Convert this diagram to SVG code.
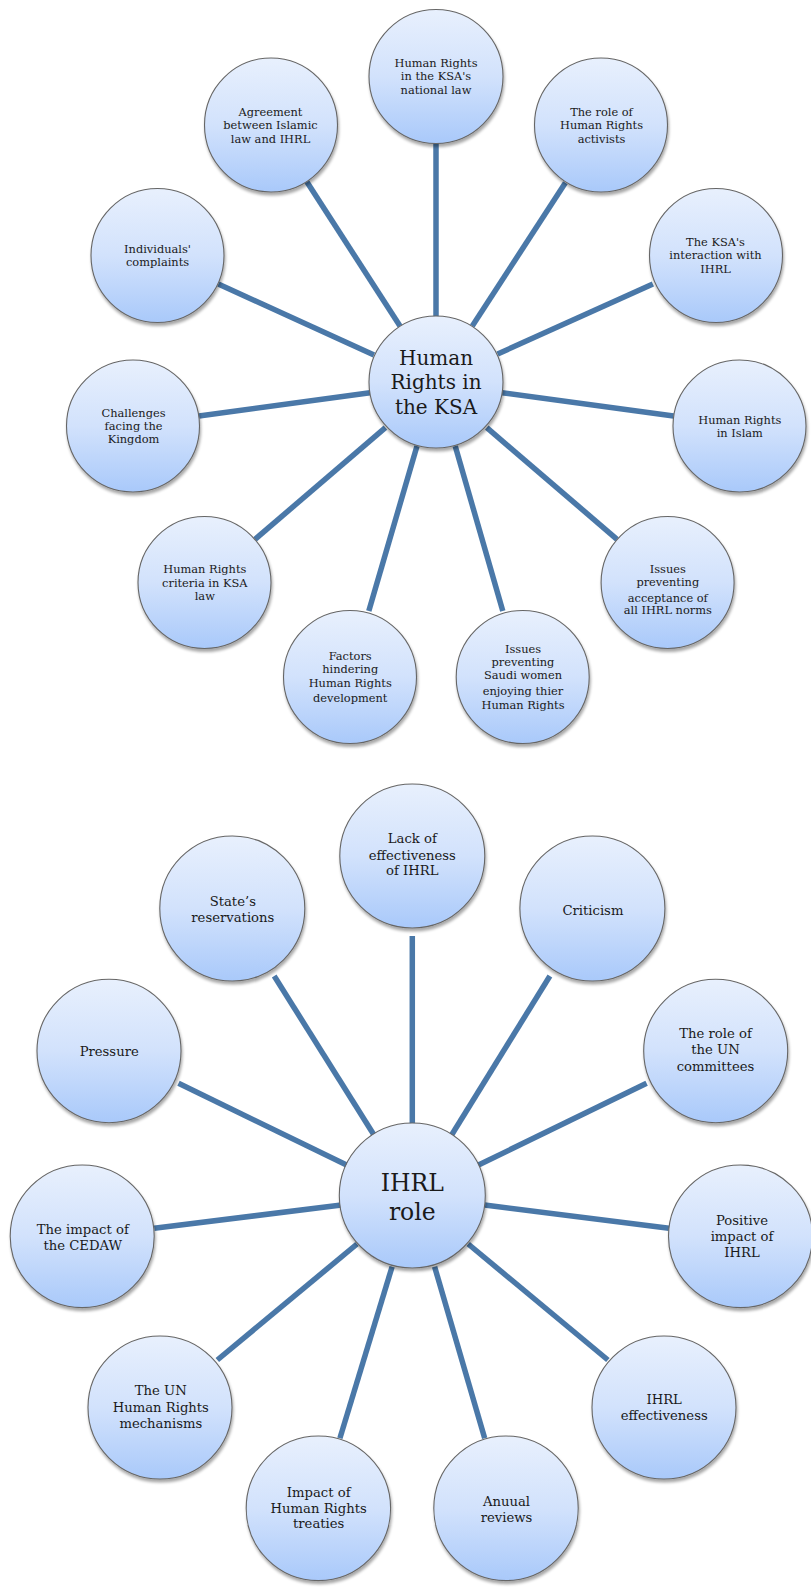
<svg xmlns="http://www.w3.org/2000/svg" width="811" height="1588" viewBox="0 0 811 1588">
  <style>
    .bg { fill: #ffffff; }
    .link { stroke: #4a78a8; stroke-width: 5.5; stroke-linecap: butt; fill: none; }
    .bubble { fill: url(#bubbleFill); stroke: #666666; stroke-width: 1.1; filter: url(#softShadow); }
    .t { font-family: "DejaVu Serif", "Liberation Serif", serif; fill: #1a1a1a; text-anchor: middle; }
    .s1 { font-size: 11.4px; }
    .s2 { font-size: 13.2px; }
    .hub1 { font-size: 20px; }
    .hub2 { font-size: 23.5px; }
  </style>
  <defs>
    <linearGradient id="bubbleFill" x1="0" y1="0" x2="0" y2="1">
      <stop offset="0" stop-color="#e8f0fd"/>
      <stop offset="0.5" stop-color="#d2e2fc"/>
      <stop offset="1" stop-color="#a9c9fa"/>
    </linearGradient>
    <filter id="softShadow" x="-20%" y="-20%" width="140%" height="145%">
      <feGaussianBlur in="SourceAlpha" stdDeviation="1.8"/>
      <feOffset dx="0.5" dy="2.5" result="blurred"/>
      <feComponentTransfer><feFuncA type="linear" slope="0.35"/></feComponentTransfer>
      <feMerge><feMergeNode/><feMergeNode in="SourceGraphic"/></feMerge>
    </filter>
  </defs>
  <rect class="bg" x="0" y="0" width="811" height="1588"/>

  <!-- spokes of the upper wheel -->
  <g id="connectors-ksa">
    <line class="link" x1="436" y1="143" x2="436" y2="318"/>
    <line class="link" x1="306.8" y1="181.7" x2="400" y2="326"/>
    <line class="link" x1="565.4" y1="182.7" x2="472.3" y2="326"/>
    <line class="link" x1="218.3" y1="284" x2="374" y2="355"/>
    <line class="link" x1="652.9" y1="284" x2="497.6" y2="354"/>
    <line class="link" x1="199" y1="416" x2="370" y2="392.7"/>
    <line class="link" x1="502" y1="392.7" x2="673.6" y2="416"/>
    <line class="link" x1="255" y1="539.3" x2="385.4" y2="427.7"/>
    <line class="link" x1="617" y1="539.3" x2="486.8" y2="427.7"/>
    <line class="link" x1="368.8" y1="611" x2="417" y2="446"/>
    <line class="link" x1="502.8" y1="611" x2="455.2" y2="446"/>
  </g>

  <!-- spokes of the lower wheel -->
  <g id="connectors-ihrl">
    <line class="link" x1="412.3" y1="936" x2="412.3" y2="1125"/>
    <line class="link" x1="274.2" y1="976" x2="374" y2="1135"/>
    <line class="link" x1="549.9" y1="976" x2="451.6" y2="1135"/>
    <line class="link" x1="178.5" y1="1083.3" x2="346.6" y2="1165"/>
    <line class="link" x1="646.6" y1="1083.3" x2="478.5" y2="1165"/>
    <line class="link" x1="154.2" y1="1228.3" x2="341.4" y2="1205"/>
    <line class="link" x1="484.7" y1="1205" x2="669" y2="1228.3"/>
    <line class="link" x1="217.3" y1="1360" x2="357" y2="1244"/>
    <line class="link" x1="607.9" y1="1360" x2="468.2" y2="1244"/>
    <line class="link" x1="339.9" y1="1438.3" x2="392.1" y2="1266.7"/>
    <line class="link" x1="484.7" y1="1438.3" x2="434.6" y2="1266.7"/>
  </g>

  <!-- upper wheel -->
  <g id="ksa-hub">
    <ellipse class="bubble" cx="436" cy="382" rx="67" ry="66"/>
    <text class="t hub1"><tspan x="436" y="365">Human</tspan><tspan x="436" y="389">Rights in</tspan><tspan x="436" y="414">the KSA</tspan></text>
  </g>
  <g id="ksa-national-law">
    <ellipse class="bubble" cx="436" cy="76.5" rx="67" ry="67"/>
    <text class="t s1"><tspan x="436" y="66.5">Human Rights</tspan><tspan x="436" y="80">in the KSA's</tspan><tspan x="436" y="94">national law</tspan></text>
  </g>
  <g id="ksa-agreement">
    <ellipse class="bubble" cx="271" cy="125" rx="66.5" ry="67"/>
    <text class="t s1"><tspan x="270.5" y="115.5">Agreement</tspan><tspan x="270.5" y="129">between Islamic</tspan><tspan x="270.5" y="142.5">law and IHRL</tspan></text>
  </g>
  <g id="ksa-activists">
    <ellipse class="bubble" cx="601" cy="125" rx="66.5" ry="67"/>
    <text class="t s1"><tspan x="601.5" y="115.5">The role of</tspan><tspan x="601.5" y="129">Human Rights</tspan><tspan x="601.5" y="142.5">activists</tspan></text>
  </g>
  <g id="ksa-complaints">
    <ellipse class="bubble" cx="157.5" cy="255.5" rx="66.5" ry="67"/>
    <text class="t s1"><tspan x="157.5" y="252.5">Individuals'</tspan><tspan x="157.5" y="266">complaints</tspan></text>
  </g>
  <g id="ksa-interaction">
    <ellipse class="bubble" cx="716" cy="255.5" rx="66.5" ry="67"/>
    <text class="t s1"><tspan x="715.5" y="245.5">The KSA's</tspan><tspan x="715.5" y="259">interaction with</tspan><tspan x="715.5" y="272.5">IHRL</tspan></text>
  </g>
  <g id="ksa-challenges">
    <ellipse class="bubble" cx="133" cy="426" rx="66.5" ry="66"/>
    <text class="t s1"><tspan x="133.5" y="416.5">Challenges</tspan><tspan x="133.5" y="429.5">facing the</tspan><tspan x="133.5" y="442.5">Kingdom</tspan></text>
  </g>
  <g id="ksa-islam">
    <ellipse class="bubble" cx="739.5" cy="426" rx="66.5" ry="66"/>
    <text class="t s1"><tspan x="739.8" y="423.5">Human Rights</tspan><tspan x="739.8" y="436.5">in Islam</tspan></text>
  </g>
  <g id="ksa-criteria">
    <ellipse class="bubble" cx="204.5" cy="582.5" rx="66.5" ry="66"/>
    <text class="t s1"><tspan x="204.8" y="573">Human Rights</tspan><tspan x="204.8" y="586.5">criteria in KSA</tspan><tspan x="204.8" y="599.5">law</tspan></text>
  </g>
  <g id="ksa-acceptance">
    <ellipse class="bubble" cx="667.6" cy="582.5" rx="66.5" ry="66"/>
    <text class="t s1"><tspan x="667.8" y="573">Issues</tspan><tspan x="667.8" y="585.5">preventing</tspan><tspan x="667.8" y="601.5">acceptance of</tspan><tspan x="667.8" y="614">all IHRL norms</tspan></text>
  </g>
  <g id="ksa-factors">
    <ellipse class="bubble" cx="350" cy="677" rx="66.5" ry="66.5"/>
    <text class="t s1"><tspan x="350.2" y="659.5">Factors</tspan><tspan x="350.2" y="672.5">hindering</tspan><tspan x="350.2" y="687">Human Rights</tspan><tspan x="350.2" y="702">development</tspan></text>
  </g>
  <g id="ksa-women">
    <ellipse class="bubble" cx="522.7" cy="677" rx="66.5" ry="66.5"/>
    <text class="t s1"><tspan x="523" y="652.5">Issues</tspan><tspan x="523" y="666">preventing</tspan><tspan x="523" y="678.5">Saudi women</tspan><tspan x="523" y="694.5">enjoying thier</tspan><tspan x="523" y="708.5">Human Rights</tspan></text>
  </g>

  <!-- lower wheel -->
  <g id="ihrl-hub">
    <ellipse class="bubble" cx="412.3" cy="1195.5" rx="73" ry="72.5"/>
    <text class="t hub2"><tspan x="412.3" y="1191">IHRL</tspan><tspan x="412.3" y="1219.5">role</tspan></text>
  </g>
  <g id="ihrl-lack">
    <ellipse class="bubble" cx="412.3" cy="856" rx="72.5" ry="72"/>
    <text class="t s2"><tspan x="412.3" y="843.3">Lack of</tspan><tspan x="412.3" y="859.5">effectiveness</tspan><tspan x="412.3" y="875">of IHRL</tspan></text>
  </g>
  <g id="ihrl-reservations">
    <ellipse class="bubble" cx="232.3" cy="908.5" rx="72.5" ry="72.5"/>
    <text class="t s2"><tspan x="232.8" y="905.7">State’s</tspan><tspan x="232.8" y="921.7">reservations</tspan></text>
  </g>
  <g id="ihrl-criticism">
    <ellipse class="bubble" cx="592.4" cy="908.5" rx="72.5" ry="72.5"/>
    <text class="t s2"><tspan x="592.9" y="915">Criticism</tspan></text>
  </g>
  <g id="ihrl-pressure">
    <ellipse class="bubble" cx="109" cy="1051" rx="72" ry="71.7"/>
    <text class="t s2"><tspan x="109.2" y="1055.7">Pressure</tspan></text>
  </g>
  <g id="ihrl-un-committees">
    <ellipse class="bubble" cx="715.7" cy="1051" rx="72" ry="71.7"/>
    <text class="t s2"><tspan x="715.5" y="1038.3">The role of</tspan><tspan x="715.5" y="1054.3">the UN</tspan><tspan x="715.5" y="1070.7">committees</tspan></text>
  </g>
  <g id="ihrl-cedaw">
    <ellipse class="bubble" cx="82.2" cy="1236.3" rx="72" ry="71.3"/>
    <text class="t s2"><tspan x="82.8" y="1234">The impact of</tspan><tspan x="82.8" y="1250">the CEDAW</tspan></text>
  </g>
  <g id="ihrl-positive">
    <ellipse class="bubble" cx="740.5" cy="1236.3" rx="72" ry="71.3"/>
    <text class="t s2"><tspan x="742" y="1225">Positive</tspan><tspan x="742" y="1241">impact of</tspan><tspan x="742" y="1256.7">IHRL</tspan></text>
  </g>
  <g id="ihrl-mechanisms">
    <ellipse class="bubble" cx="160" cy="1407.5" rx="72" ry="71.5"/>
    <text class="t s2"><tspan x="160.8" y="1395">The UN</tspan><tspan x="160.8" y="1411.7">Human Rights</tspan><tspan x="160.8" y="1427.7">mechanisms</tspan></text>
  </g>
  <g id="ihrl-effectiveness">
    <ellipse class="bubble" cx="664" cy="1407.5" rx="72" ry="71.5"/>
    <text class="t s2"><tspan x="664.2" y="1404">IHRL</tspan><tspan x="664.2" y="1420">effectiveness</tspan></text>
  </g>
  <g id="ihrl-treaties">
    <ellipse class="bubble" cx="318.4" cy="1508.3" rx="72.2" ry="72.3"/>
    <text class="t s2"><tspan x="318.7" y="1496.7">Impact of</tspan><tspan x="318.7" y="1512.7">Human Rights</tspan><tspan x="318.7" y="1528.3">treaties</tspan></text>
  </g>
  <g id="ihrl-reviews">
    <ellipse class="bubble" cx="506" cy="1508.3" rx="72.2" ry="72.3"/>
    <text class="t s2"><tspan x="506.5" y="1505.7">Anuual</tspan><tspan x="506.5" y="1521.7">reviews</tspan></text>
  </g>
</svg>
